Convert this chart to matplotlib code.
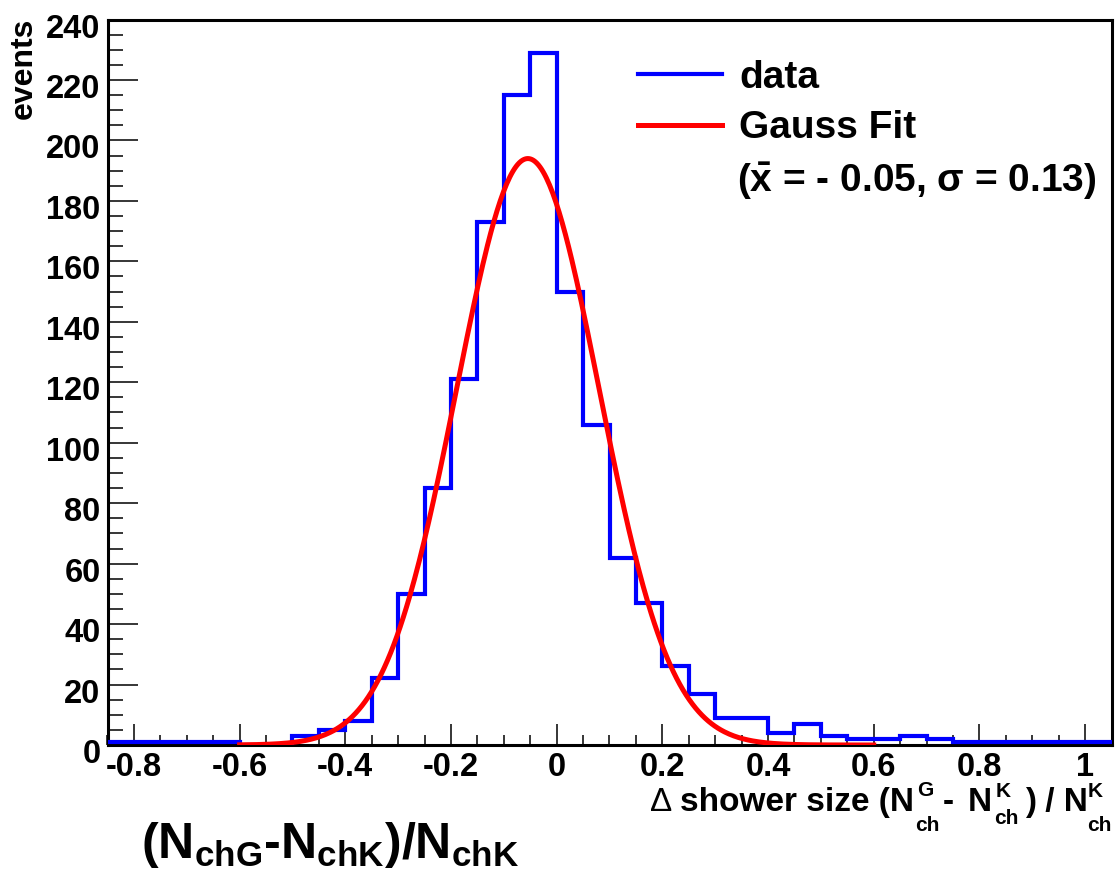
import numpy as np
import matplotlib
matplotlib.use("Agg")
import matplotlib.pyplot as plt
from matplotlib.ticker import MultipleLocator
import matplotlib.transforms as mtransforms

plt.rcParams['font.family'] = ['Liberation Sans', 'DejaVu Sans']
plt.rcParams['font.weight'] = 'bold'
plt.rcParams['mathtext.fontset'] = 'custom'
plt.rcParams['mathtext.rm'] = 'Liberation Sans:bold'
plt.rcParams['mathtext.bf'] = 'Liberation Sans:bold'
plt.rcParams['mathtext.it'] = 'Liberation Sans:bold'
plt.rcParams['mathtext.sf'] = 'Liberation Sans:bold'

# histogram: 38 bins of width 0.05 from -0.85 to 1.05
bin_lo = -0.85
bin_width = 0.05
counts = [1, 1, 1, 1, 1, 0, 0, 3, 5, 8,
          22, 50, 85, 121, 173, 215, 229, 150, 106, 62,
          47, 26, 17, 9, 9, 4, 7, 3, 2, 2,
          3, 2, 1, 1, 1, 1, 1, 1]

# gauss fit parameters (as drawn)
fit_amp = 194.0
fit_mean = -0.0545
fit_sigma = 0.135
fit_range = (-0.6, 0.6)

x_ticks = [-0.8, -0.6, -0.4, -0.2, 0, 0.2, 0.4, 0.6, 0.8, 1]
x_ticklabels = ['-0.8', '-0.6', '-0.4', '-0.2', '0', '0.2', '0.4', '0.6', '0.8', '1']
y_ticks = list(range(0, 241, 20))

W, H = 1115, 875
fig = plt.figure(figsize=(W / 100, H / 100), dpi=100)
ax = fig.add_axes([107.5 / W, 1 - 745 / H, (1111.5 - 107.5) / W, (745 - 19.5) / H])

edges = bin_lo + bin_width * np.arange(len(counts) + 1)
ax.stairs(counts, edges, color='#0000ff', linewidth=3, baseline=None, label='data', zorder=3)

xf = np.linspace(fit_range[0], fit_range[1], 400)
yf = fit_amp * np.exp(-0.5 * ((xf - fit_mean) / fit_sigma) ** 2)
ax.plot(xf, yf, color='#ff0000', linewidth=3.6, label='Gauss Fit', zorder=4)

ax.set_xlim(-0.85, 1.05)
ax.set_ylim(0, 240)
ax.set_xticks(x_ticks)
ax.set_xticklabels(x_ticklabels)
ax.set_yticks(y_ticks)
ax.xaxis.set_minor_locator(MultipleLocator(0.05))
ax.yaxis.set_minor_locator(MultipleLocator(5))

for s in ax.spines.values():
    s.set_linewidth(2.2)
ax.tick_params(which='both', direction='in', width=1.1, labelsize=23.5,
               top=False, right=False)
ax.tick_params(axis='x', which='major', length=15, pad=5)
ax.tick_params(axis='x', which='minor', length=7.5)
ax.tick_params(axis='y', which='major', length=21.5, pad=5)
ax.tick_params(axis='y', which='minor', length=11)
for lab in ax.get_xticklabels() + ax.get_yticklabels():
    lab.set_fontweight('bold')
off = mtransforms.ScaledTranslation(0, -6 / 100, fig.dpi_scale_trans)
for lab in ax.get_yticklabels():
    lab.set_transform(lab.get_transform() + off)

leg = ax.legend(loc='upper left', bbox_to_anchor=(638 / W, 1 - 59.5 / H),
                bbox_transform=fig.transFigure, frameon=False, fontsize=28,
                handlelength=2.16, handletextpad=0.44, labelspacing=0.38,
                borderpad=0, borderaxespad=0)
for t in leg.get_texts():
    t.set_fontweight('bold')


def fx(px):
    return px / W


def fy(py):
    return 1 - py / H


def put(px, py, s, size, **kw):
    kw.setdefault('fontweight', 'bold')
    fig.text(fx(px), fy(py), s, fontsize=size, ha='left', va='baseline', **kw)


put(737, 192, r'($\bar{\mathrm{x}}$ = - 0.05, $\sigma$ = 0.13)', 28)

fig.text(fx(24), fy(18), 'events', rotation=90, fontsize=23, fontweight='bold',
         ha='center', va='top')

# x axis title, ROOT style with stacked sub/superscripts
put(650, 811, '\u0394', 24, fontweight='normal')
put(680, 811, 'shower size (N', 24)
put(917, 796, 'G', 15)
put(915, 831, 'ch', 15)
put(943, 811, '-', 24)
put(968, 811, 'N', 24)
put(996, 797, 'K', 15)
put(994, 824, 'ch', 15)
put(1025, 811, ') / N', 24)
put(1088, 797, 'K', 15)
put(1087, 831, 'ch', 15)

put(141, 858, r'(N$_{\mathrm{chG}}$' + '-' + r'N$_{\mathrm{chK}}$)/N$_{\mathrm{chK}}$', 36)

fig.savefig('out.png', dpi=100)
